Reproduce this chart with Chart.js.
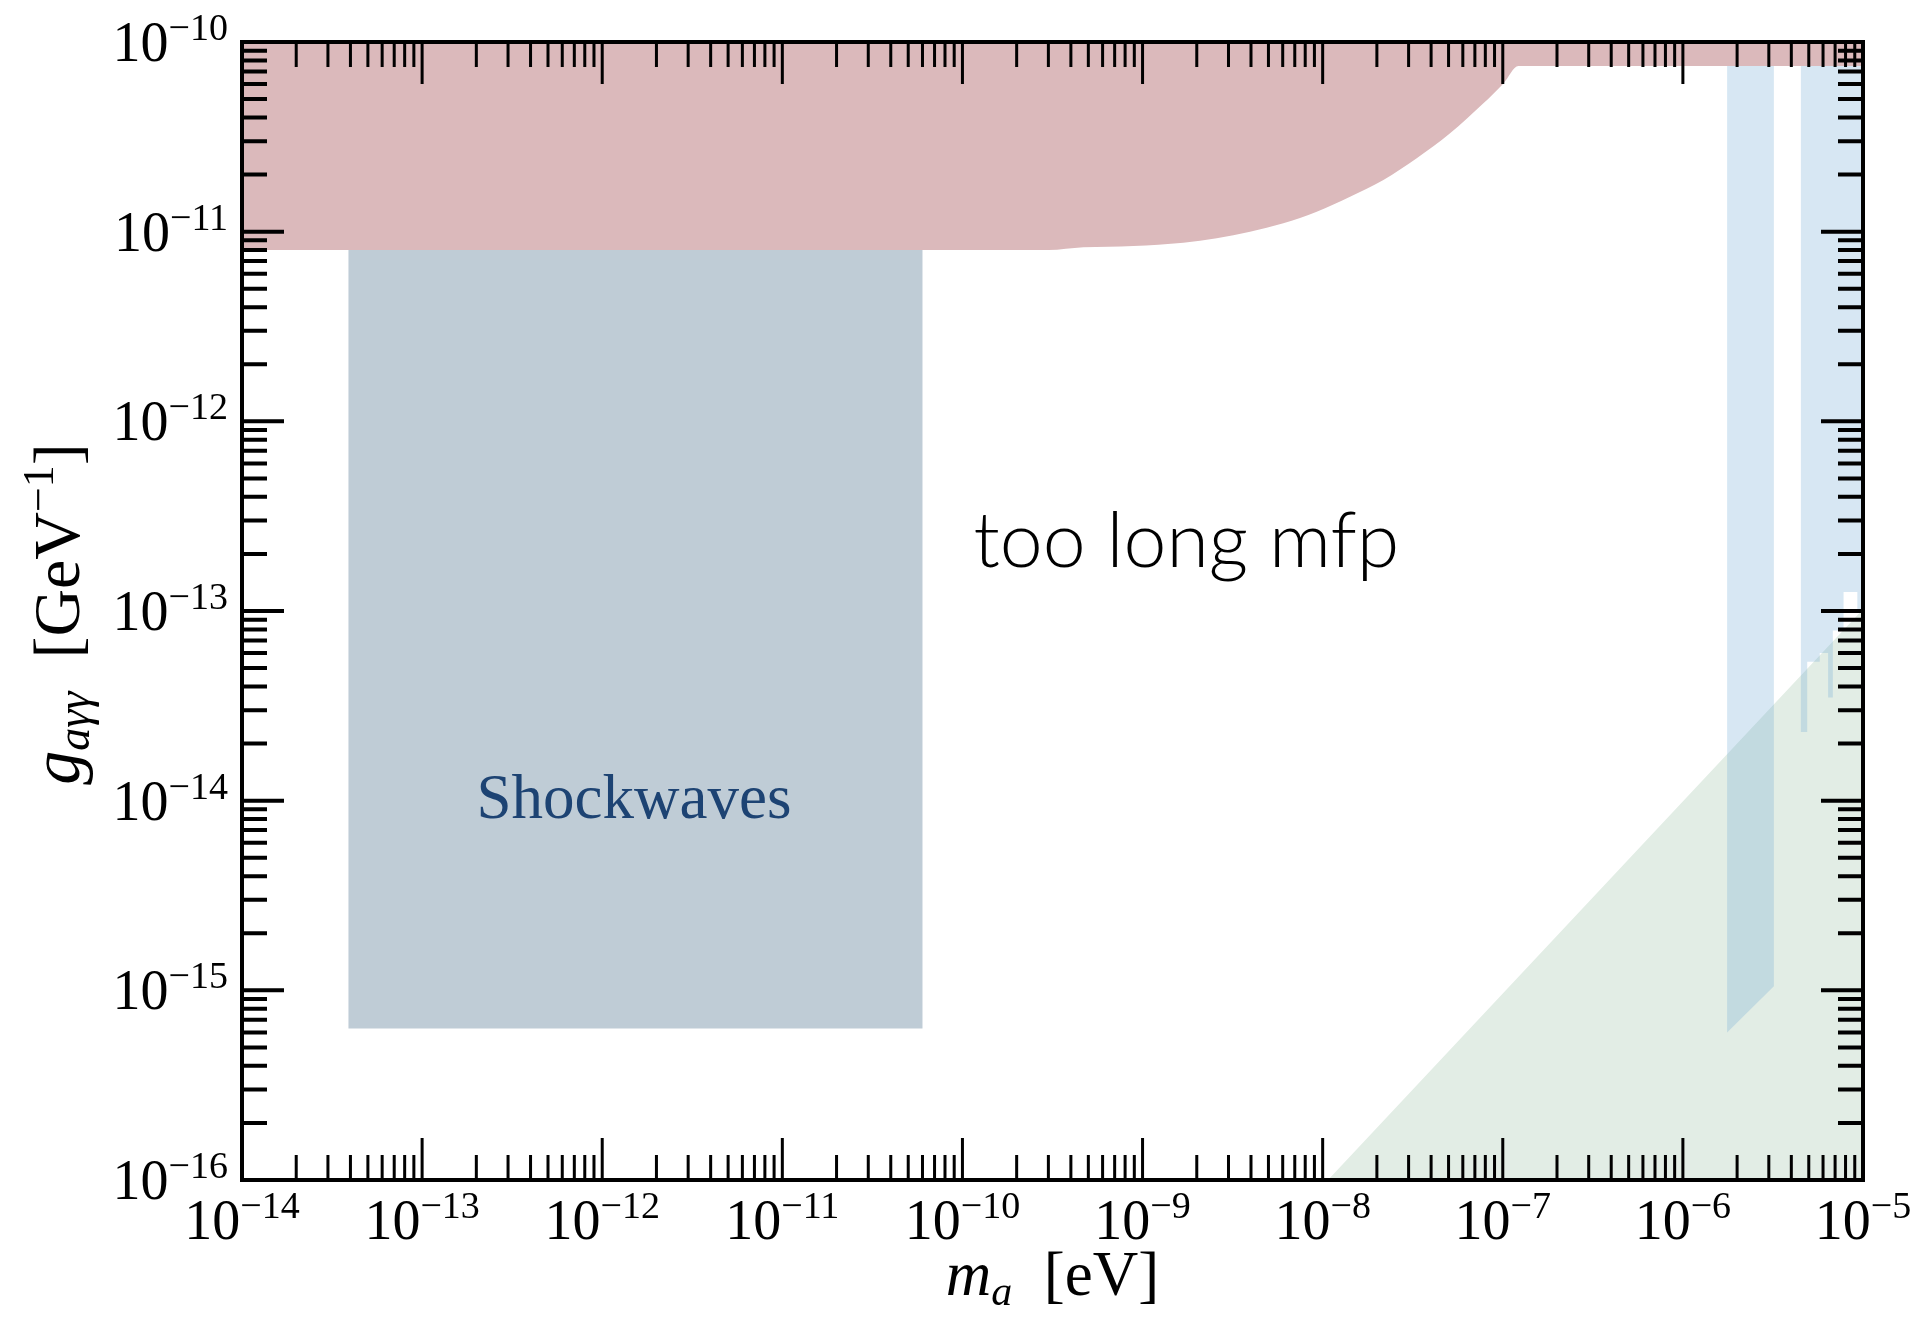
<!DOCTYPE html>
<html lang="en">
<head>
<meta charset="UTF-8">
<title>Axion-photon coupling bounds</title>
<script src="https://cdn.jsdelivr.net/npm/chart.js"></script>
<style>
  body { margin: 0; background: #fff; }
</style>
</head>
<body>
<canvas id="boundsChart" width="1924" height="1330"></canvas>
<script>
// decades on the two log axes (tick labels are 10^d)
const massDecades = [-14, -13, -12, -11, -10, -9, -8, -7, -6, -5];
const couplingDecades = [-16, -15, -14, -13, -12, -11, -10];

// upper excluded region (red): lower edge, filled up to the top of the plot
const redMass = [1e-14, 3e-10, 4.69e-10, 8.89e-10, 1.685e-9, 2.58e-9, 3.95e-9, 6.05e-9, 9.27e-9,
                 1.419e-8, 2.174e-8, 3.329e-8, 5.097e-8, 7.806e-8, 1.008e-7, 1.221e-7, 1e-5];
const redCoupling = [8.0e-12, 8.0e-12, 8.27e-12, 8.41e-12, 8.75e-12, 9.23e-12, 1.0e-11, 1.107e-11, 1.275e-11,
                     1.53e-11, 1.873e-11, 2.436e-11, 3.30e-11, 4.75e-11, 6.05e-11, 7.47e-11, 7.47e-11];

// shockwaves box
const shockMass = [3.9e-14, 6.0e-11, 6.0e-11, 3.9e-14];
const shockCoupling = [8.0e-12, 8.0e-12, 6.3e-16, 6.3e-16];

// light blue bands on the right
const band1Mass = [1.76e-6, 3.2e-6, 3.2e-6, 1.76e-6];
const band1Coupling = [7.47e-11, 7.47e-11, 1.05e-15, 6.0e-16];

const band2Mass = [4.52e-6, 4.52e-6, 4.9e-6, 4.9e-6, 5.75e-6, 5.75e-6, 6.4e-6, 6.4e-6, 6.8e-6, 6.8e-6,
                   7.8e-6, 7.8e-6, 9.3e-6, 9.3e-6, 1e-5, 1e-5];
const band2Coupling = [7.47e-11, 2.3e-14, 2.3e-14, 5.4e-14, 5.4e-14, 6.0e-14, 6.0e-14, 3.5e-14, 3.5e-14, 7.9e-14,
                       7.9e-14, 1.26e-13, 1.26e-13, 1.0e-13, 1.0e-13, 7.47e-11];

// green triangle bottom right
const greenMass = [1.07e-8, 1e-5, 1e-5];
const greenCoupling = [1e-16, 1.02e-13, 1e-16];

function toPoints(xs, ys) {
  return xs.map((v, i) => ({ x: v, y: ys[i] }));
}

function region(label, xs, ys, color, order) {
  return {
    label: label,
    data: toPoints(xs, ys),
    backgroundColor: color,
    borderColor: 'transparent',
    borderWidth: 0,
    pointRadius: 0,
    fill: 'shape',
    order: order
  };
}

const SERIF = '"Liberation Serif", "Times New Roman", serif';

// draws a run of text pieces centred on cx, pieces = [text, font, dy]
function drawRun(ctx, pieces, cx, baseline) {
  let total = 0;
  const widths = pieces.map(p => {
    ctx.font = p[1];
    const w = ctx.measureText(p[0]).width;
    total += w;
    return w;
  });
  let xPos = cx - total / 2;
  pieces.forEach((p, i) => {
    ctx.font = p[1];
    ctx.fillText(p[0], xPos, baseline + p[2]);
    xPos += widths[i];
  });
  return total;
}

function powerPieces(d) {
  return [['10', '56px ' + SERIF, 0], ['\u2212' + Math.abs(d), '38px ' + SERIF, -21]];
}

const frameAndLabels = {
  id: 'frameAndLabels',
  afterDatasetsDraw(chart) {
    const ctx = chart.ctx;
    const a = chart.chartArea;
    const xs = chart.scales.x;
    const ys = chart.scales.y;
    ctx.save();
    ctx.strokeStyle = '#000';
    ctx.fillStyle = '#000';
    ctx.lineCap = 'butt';

    // x ticks, bottom and top, pointing inwards
    ctx.lineWidth = 3;
    massDecades.forEach((d, i) => {
      for (let k = 1; k <= 9; k++) {
        if (k > 1 && i === massDecades.length - 1) break;
        const px = xs.getPixelForValue(k * Math.pow(10, d));
        const len = k === 1 ? 42 : 25;
        ctx.beginPath();
        ctx.moveTo(px, a.bottom); ctx.lineTo(px, a.bottom - len);
        ctx.moveTo(px, a.top); ctx.lineTo(px, a.top + len);
        ctx.stroke();
      }
    });
    // y ticks, left and right
    ctx.lineWidth = 4;
    couplingDecades.forEach((d, i) => {
      for (let k = 1; k <= 9; k++) {
        if (k > 1 && i === couplingDecades.length - 1) break;
        const py = ys.getPixelForValue(k * Math.pow(10, d));
        const len = k === 1 ? 42 : 25;
        ctx.beginPath();
        ctx.moveTo(a.left, py); ctx.lineTo(a.left + len, py);
        ctx.moveTo(a.right, py); ctx.lineTo(a.right - len, py);
        ctx.stroke();
      }
    });

    // frame
    ctx.lineWidth = 4;
    ctx.strokeRect(a.left, a.top, a.right - a.left, a.bottom - a.top);

    // tick labels
    ctx.textAlign = 'left';
    ctx.textBaseline = 'alphabetic';
    massDecades.forEach(d => {
      drawRun(ctx, powerPieces(d), xs.getPixelForValue(Math.pow(10, d)), a.bottom + 59);
    });
    couplingDecades.forEach(d => {
      const pieces = powerPieces(d);
      let w = 0;
      pieces.forEach(p => { ctx.font = p[1]; w += ctx.measureText(p[0]).width; });
      drawRun(ctx, pieces, a.left - 14 - w / 2, ys.getPixelForValue(Math.pow(10, d)) + 19);
    });

    // axis titles
    const cxMid = (a.left + a.right) / 2;
    drawRun(ctx, [
      ['m', 'italic 63px ' + SERIF, 0],
      ['a', 'italic 42px ' + SERIF, 10],
      ['  [eV]', '63px ' + SERIF, 0]
    ], cxMid, a.bottom + 115);

    ctx.save();
    ctx.translate(79, (a.top + a.bottom) / 2 + 3);
    ctx.rotate(-Math.PI / 2);
    drawRun(ctx, [
      ['g', 'italic 68px ' + SERIF, 0],
      ['a\u03b3\u03b3', 'italic 46px ' + SERIF, 10],
      ['  [GeV', '66px ' + SERIF, 0],
      ['\u22121', '44px ' + SERIF, -26],
      [']', '66px ' + SERIF, 0]
    ], 0, 0);
    ctx.restore();

    // region labels, anchored at data coordinates
    ctx.fillStyle = '#1d4373';
    drawRun(ctx, [['Shockwaves', '63px ' + SERIF, 0]],
      xs.getPixelForValue(1.5e-12), ys.getPixelForValue(8.1e-15));
    ctx.fillStyle = '#000';
    drawRun(ctx, [['too long mfp', '300 77px Lato, "Liberation Sans", sans-serif', 0]],
      xs.getPixelForValue(1.75e-9), ys.getPixelForValue(1.7e-13));

    ctx.restore();
  }
};

new Chart(document.getElementById('boundsChart'), {
  type: 'line',
  data: {
    datasets: [
      {
        label: 'Excluded',
        data: toPoints(redMass, redCoupling),
        backgroundColor: '#dbb9bb',
        borderColor: 'transparent',
        borderWidth: 0,
        pointRadius: 0,
        fill: 'end',
        cubicInterpolationMode: 'monotone',
        order: 1
      },
      region('Shockwaves', shockMass, shockCoupling, '#bfccd6', 2),
      region('Band A', band1Mass, band1Coupling, 'rgba(110,168,212,0.276)', 3),
      region('Band B', band2Mass, band2Coupling, 'rgba(110,168,212,0.276)', 3),
      region('Triangle', greenMass, greenCoupling, '#e2ede5', 5)
    ]
  },
  options: {
    responsive: false,
    animation: false,
    layout: { padding: { left: 242, right: 61, top: 42, bottom: 150 } },
    scales: {
      x: { type: 'logarithmic', min: 1e-14, max: 1e-5, display: false },
      y: { type: 'logarithmic', min: 1e-16, max: 1e-10, display: false }
    },
    elements: { line: { tension: 0 } },
    plugins: {
      legend: { display: false },
      tooltip: { enabled: false }
    }
  },
  plugins: [frameAndLabels]
});
</script>
</body>
</html>
